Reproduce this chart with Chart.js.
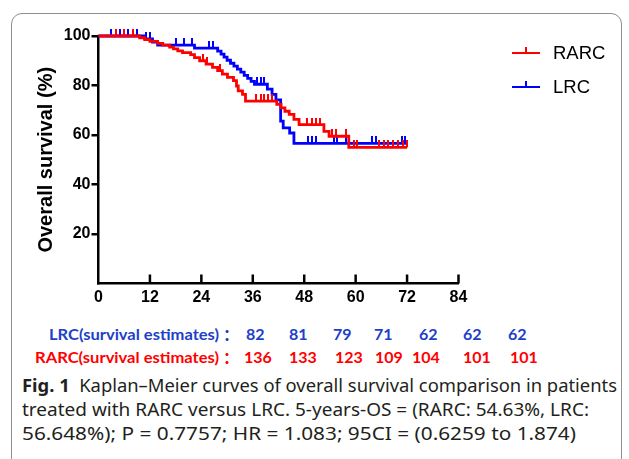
<!DOCTYPE html>
<html>
<head>
<meta charset="utf-8">
<script src="https://cdn.jsdelivr.net/npm/chart.js@4.4.1/dist/chart.umd.min.js"></script>
<style>
html,body{margin:0;padding:0;background:#fff;width:629px;height:459px;overflow:hidden}
#wrap{position:relative;width:629px;height:459px;background:#fff}
#frame{position:absolute;left:11px;top:13px;width:611px;height:480px;border:1.5px solid #8f8f8f;border-radius:11px 11px 0 0;box-sizing:border-box}
#c{position:absolute;left:0;top:0}
.legtxt{position:absolute;font-family:"Liberation Sans",Arial,sans-serif;font-size:18.5px;line-height:18.5px;color:#000;white-space:nowrap}
.legline{position:absolute;height:2.5px;width:28px}
.legtick{position:absolute;width:2px;height:6px}
.risk{position:absolute;font-family:Lato,"Open Sans",sans-serif;font-size:16px;line-height:16px;white-space:nowrap;font-weight:700}
.colon{position:absolute;font-family:"Noto Sans CJK SC",sans-serif;font-size:16px;line-height:16px;font-weight:700}
.cap{position:absolute;left:22px;font-family:"Noto Sans","Open Sans",sans-serif;font-size:18px;line-height:24px;color:#231f20;white-space:nowrap;display:inline-block;transform-origin:0 0}
.cap b{font-weight:700}
</style>
</head>
<body>
<div id="wrap">
  <div id="frame"></div>
  <canvas id="c" width="629" height="315"></canvas>
  <div id="legend"></div>
  <div id="risk"></div>
  <div class="cap" style="top:373px" data-fit="595"><b>Fig. 1</b>&nbsp; Kaplan–Meier curves of overall survival comparison in patients</div>
  <div class="cap" style="top:397px" data-fit="567">treated with RARC versus LRC. 5-years-OS = (RARC: 54.63%, LRC:</div>
  <div class="cap" style="top:421px" data-fit="554">56.648%); P = 0.7757; HR = 1.083; 95CI = (0.6259 to 1.874)</div>
</div>
<script>
// ---------------- data ----------------
const seriesNames = ['RARC', 'LRC'];
const xTickStep = 12;          // months
const xMax = 84;
const yTickStep = 20;          // percent

// LRC (blue) Kaplan-Meier steps: time (months) and survival (%)
const lrcTimes = [0, 10.8, 12.6, 13.8, 22.4, 27.8, 28.6, 29.3, 30.0, 30.8, 31.6, 32.4, 33.2, 34.0, 34.8, 35.6, 36.4, 39.4, 40.5, 41.4, 42.5, 43.1, 44.6, 45.6, 72];
const lrcSurvival = [100, 98.8, 97.5, 96.3, 95.1, 93.9, 92.7, 91.5, 90.2, 89.0, 87.8, 86.6, 85.4, 84.1, 82.9, 81.7, 80.5, 78.5, 76.4, 74.2, 65.6, 62.9, 60.8, 56.6, 56.6];
const lrcCensored = [2.9, 5.0, 6.9, 8.9, 11.0, 12.0, 18.0, 19.9, 21.7, 25.7, 26.6, 37.0, 37.9, 38.7, 48.9, 49.8, 50.7, 54.9, 55.6, 57.7, 63.7, 64.7, 70.7, 71.6];

// RARC (red) Kaplan-Meier steps
const rarcTimes = [0, 9.6, 10.8, 12.0, 13.8, 15.0, 16.6, 17.5, 18.5, 19.6, 21.5, 22.4, 23.6, 25.1, 26.6, 27.8, 28.9, 30.1, 31.5, 32.2, 32.6, 33.6, 34.3, 41.6, 42.6, 43.5, 44.5, 45.6, 46.8, 52.6, 53.8, 58.4, 72];
const rarcSurvival = [100, 99.3, 98.5, 97.8, 97.0, 96.3, 95.5, 94.8, 94.0, 93.3, 92.5, 91.3, 90.0, 88.6, 87.3, 86.0, 84.6, 83.3, 82.0, 79.8, 77.8, 76.4, 73.7, 72.4, 71.0, 69.6, 68.3, 66.3, 64.2, 61.5, 59.5, 55.0, 55.0];
const rarcCensored = [4.0, 6.0, 8.0, 24.3, 25.2, 28.3, 36.7, 37.9, 38.7, 39.6, 40.5, 48.7, 49.8, 50.8, 51.7, 54.5, 55.4, 57.8, 59.6, 60.3, 65.4, 66.5, 67.6, 68.8, 69.9, 71.1, 72.0];

// survival estimates (numbers) shown under the plot
const lrcEstimates = [82, 81, 79, 71, 62, 62, 62];
const rarcEstimates = [136, 133, 123, 109, 104, 101, 101];
const lrcLabel = 'LRC(survival estimates)';
const rarcLabel = 'RARC(survival estimates)';

// ---------------- styling / layout ----------------
const RED = '#ff0000', BLUE = '#0000ff';
const RISK_BLUE = '#2040c8', RISK_RED = '#ff0000';
const riskLeftLRC = [246, 289, 333, 374, 419, 463, 508];
const riskLeftRARC = [244, 289, 335, 375, 412, 463, 510];

function survAt(times, surv, t) {
  let s = surv[0];
  for (let i = 0; i < times.length; i++) if (times[i] <= t) s = surv[i];
  return s;
}
function tickImg(color) {
  const c = document.createElement('canvas');
  c.width = 2; c.height = 14;
  const g = c.getContext('2d');
  g.fillStyle = color; g.fillRect(0, 0, 2, 7);
  return c;
}
const redTick = tickImg(RED), blueTick = tickImg(BLUE);

const rarcLine = rarcTimes.map((t, i) => ({x: t, y: rarcSurvival[i]}));
const lrcLine = lrcTimes.map((t, i) => ({x: t, y: lrcSurvival[i]}));
const rarcCens = rarcCensored.map(t => ({x: t, y: survAt(rarcTimes, rarcSurvival, t)}));
const lrcCens = lrcCensored.map(t => ({x: t, y: survAt(lrcTimes, lrcSurvival, t)}));

const innerTicks = {
  id: 'innerTicks',
  afterDraw(chart) {
    const xs = chart.scales.x, ctx = chart.ctx, y0 = chart.chartArea.bottom;
    ctx.save();
    ctx.strokeStyle = '#000'; ctx.lineWidth = 2.5;
    xs.ticks.forEach(t => {
      if (t.value === 0) return;
      const px = xs.getPixelForValue(t.value);
      ctx.beginPath(); ctx.moveTo(px, y0); ctx.lineTo(px, y0 - 9); ctx.stroke();
    });
    ctx.restore();
  }
};

Chart.defaults.font.family = '"Liberation Sans", Arial, sans-serif';
new Chart(document.getElementById('c'), {
  type: 'line',
  data: {
    datasets: [
      {label: seriesNames[0], data: rarcLine, borderColor: RED, borderWidth: 2.8, stepped: 'before', pointRadius: 0, fill: false, clip: false, borderCapStyle: 'butt'},
      {label: seriesNames[0] + ' censored', data: rarcCens, showLine: false, pointStyle: redTick, pointRadius: 5, clip: false},
      {label: seriesNames[1], data: lrcLine, borderColor: BLUE, borderWidth: 2.8, stepped: 'before', pointRadius: 0, fill: false, clip: false, borderCapStyle: 'butt'},
      {label: seriesNames[1] + ' censored', data: lrcCens, showLine: false, pointStyle: blueTick, pointRadius: 5, clip: false}
    ]
  },
  options: {
    responsive: false,
    animation: false,
    events: [],
    layout: {padding: {left: 30, right: 170.5, top: 36, bottom: 1.5}},
    plugins: {legend: {display: false}, tooltip: {enabled: false}},
    scales: {
      x: {
        type: 'linear', min: 0, max: xMax,
        ticks: {stepSize: xTickStep, color: '#000', font: {size: 16, weight: 'bold'}, padding: 4, maxRotation: 0},
        grid: {display: false, drawTicks: false},
        border: {display: true, color: '#000', width: 2.5},
        afterFit: s => { s.height = 30; }
      },
      y: {
        min: 0, max: 100,
        ticks: {stepSize: yTickStep, color: '#000', font: {size: 16, weight: 'bold'}, padding: 1,
                callback: v => v === 0 ? '' : v},
        grid: {drawOnChartArea: false, drawTicks: true, tickLength: 7, lineWidth: 2.5,
               color: c => (c.tick && c.tick.value === 0) ? 'rgba(0,0,0,0)' : '#000'},
        border: {display: true, color: '#000', width: 2.5},
        title: {display: true, text: 'Overall survival (%)', color: '#000', font: {size: 20, weight: 'bold'}, padding: {top: 4, bottom: 0}},
        afterFit: s => { s.width = 68.5; }
      }
    }
  },
  plugins: [innerTicks]
});

// ---------------- legend ----------------
const legend = document.getElementById('legend');
[[seriesNames[0], RED, 53], [seriesNames[1], BLUE, 87]].forEach(([name, col, cy]) => {
  legend.insertAdjacentHTML('beforeend',
    `<div class="legline" style="left:512px;top:${cy - 1.25}px;background:${col}"></div>` +
    `<div class="legtick" style="left:525px;top:${cy - 6}px;background:${col}"></div>` +
    `<div class="legtxt" style="left:553px;top:${cy - 9.5}px">${name}</div>`);
});

// ---------------- survival estimates rows ----------------
const risk = document.getElementById('risk');
function riskRow(label, labelLeft, labelW, vals, lefts, color, cy) {
  risk.insertAdjacentHTML('beforeend',
    `<div class="risk" data-fit="${labelW}" style="left:${labelLeft}px;top:${cy - 8.5}px;color:${color};transform-origin:0 0">${label}</div>` +
    `<div class="colon" style="left:223px;top:${cy - 8.5}px;color:${color}">：</div>`);
  vals.forEach((v, i) => {
    risk.insertAdjacentHTML('beforeend',
      `<div class="risk" style="left:${lefts[i]}px;top:${cy - 8.5}px;color:${color}">${v}</div>`);
  });
}
riskRow(lrcLabel, 49, 170, lrcEstimates, riskLeftLRC, RISK_BLUE, 334);
riskRow(rarcLabel, 35, 184, rarcEstimates, riskLeftRARC, RISK_RED, 357);

function fitAll() {
  document.querySelectorAll('[data-fit]').forEach(el => {
    el.style.display = 'inline-block';
    el.style.transform = 'none';
    const w = +el.dataset.fit;
    const r = el.getBoundingClientRect().width;
    if (r > 0) el.style.transform = `scaleX(${w / r})`;
  });
}
fitAll();
</script>
</body>
</html>
